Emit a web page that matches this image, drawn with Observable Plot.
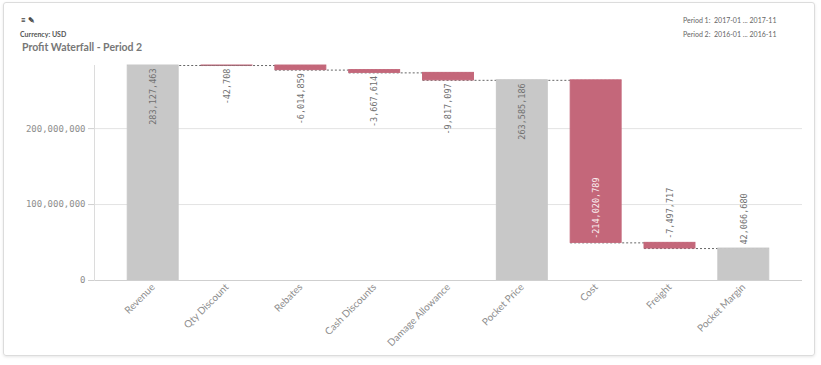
<!DOCTYPE html>
<html><head><meta charset="utf-8">
<script src="https://cdn.jsdelivr.net/npm/d3@7"></script>
<script src="https://cdn.jsdelivr.net/npm/@observablehq/plot@0.6"></script>
<style>
body{margin:0;background:#fff;width:821px;height:365px;position:relative;overflow:hidden;font-family:Lato,"Open Sans",sans-serif}
#card{position:absolute;left:3px;top:2px;width:812px;height:354px;border:1px solid #dcdcdc;border-radius:3px;box-shadow:0 1px 3px rgba(0,0,0,0.10);box-sizing:border-box}
.t{position:absolute;white-space:nowrap}
#chart{position:absolute;left:0;top:0}
</style></head><body>
<div id="card"></div>
<div class="t" style="left:21px;top:15px;font-size:8px;color:#444;font-weight:bold">≡ ✎</div>
<div class="t" style="left:20px;top:30px;font-size:7px;color:#555;font-weight:bold">Currency: USD</div>
<div class="t" style="left:22px;top:41px;font-size:10.5px;color:#777;font-weight:bold">Profit Waterfall - Period 2</div>
<div class="t" style="left:683px;top:16px;font-size:7px;color:#666">Period 1:&nbsp; 2017-01 ... 2017-11</div>
<div class="t" style="left:683px;top:30px;font-size:7px;color:#666">Period 2:&nbsp; 2016-01 ... 2016-11</div>
<div id="chart"></div>
<script>
const categories = ["Revenue","Qty Discount","Rebates","Cash Discounts","Damage Allowance","Pocket Price","Cost","Freight","Pocket Margin"];
const values = [283127463,-42708,-6014859,-3667614,-9817097,263585186,-214020789,-7497717,42066680];
const isTotal = [true,false,false,false,false,true,false,false,true];
const yTicks = [0,100000000,200000000];

const W = 821, H = 365, mT = 65, mB = 85, mL = 94, mR = 19;
const fmt = d3.formatLocale({decimal: ".", thousands: ",", grouping: [3], currency: ["$", ""], minus: "-"}).format(",");
let running = 0;
const rows = categories.map((c, i) => {
  let a, b;
  if (isTotal[i]) { a = 0; b = values[i]; running = values[i]; }
  else { a = running; b = running + values[i]; running = b; }
  return {cat: c, value: values[i], total: isTotal[i], lo: Math.min(a, b), hi: Math.max(a, b), end: running};
});
const yMax = values[0];
const pxPer = (H - mT - mB) / yMax;
const fs = 8.5;
rows.forEach(r => {
  r.label = fmt(r.value);
  const len = r.label.length * 0.6 * fs + 4;
  const barPx = (r.hi - r.lo) * pxPer;
  r.inside = barPx >= len + 4;
  if (r.inside) {
    if (r.total) { r.anchor = "end"; r.ly = r.hi; } else { r.anchor = "start"; r.ly = r.lo; }
  } else if (r.total) { r.anchor = "start"; r.ly = r.hi; }
  else if (r.lo * pxPer >= len + 6) { r.anchor = "end"; r.ly = r.lo; }
  else { r.anchor = "start"; r.ly = r.hi; }
});
const links = rows.slice(0, -1).map((r, i) => ({a: r.cat, b: rows[i + 1].cat, level: r.end}));
const colorOf = d => d.total ? "#c8c8c8" : "#c4677a";
const labelColor = d => (d.inside && !d.total) ? "#fbeef0" : "#707070";

const chart = Plot.plot({
  width: W, height: H,
  marginTop: mT, marginBottom: mB, marginLeft: mL, marginRight: mR,
  style: {fontFamily: "Lato, 'Open Sans', sans-serif", background: "transparent", color: "#888"},
  x: {domain: categories, paddingInner: 0.31, paddingOuter: 0.45, round: false, label: null},
  y: {domain: [0, yMax], label: null},
  color: {type: "identity"},
  marks: [
    Plot.gridY(yTicks, {stroke: "#e3e3e3", strokeOpacity: 1}),
    Plot.ruleY(links, {y: "level", x1: "a", x2: "b", stroke: "#666", strokeDasharray: "2,2", strokeWidth: 1}),
    Plot.barY(rows, {x: "cat", y1: "lo", y2: "hi", fill: colorOf, stroke: colorOf, strokeWidth: 1}),
    Plot.ruleY([0], {stroke: "#cfcfcf"}),
    Plot.frame({anchor: "left", stroke: "#dcdcdc"}),
    Plot.text(rows.filter(r => r.anchor === "end"), {x: "cat", y: "ly", text: "label", rotate: -90, textAnchor: "end", dy: 3, fontFamily: "DejaVu Sans Mono", fontSize: fs, fill: labelColor}),
    Plot.text(rows.filter(r => r.anchor === "start"), {x: "cat", y: "ly", text: "label", rotate: -90, textAnchor: "start", dy: -4, fontFamily: "DejaVu Sans Mono", fontSize: fs, fill: labelColor}),
    Plot.axisY({ticks: yTicks, tickFormat: fmt, tickSize: 6, tickPadding: 3, fontFamily: "DejaVu Sans Mono", fontSize: 9, fill: "#8e8e8e", stroke: "#cfcfcf", label: null}),
    Plot.axisX({tickRotate: -45, tickSize: 0, tickPadding: 5, fontSize: 10, fill: "#8e8e8e", label: null})
  ]
});
document.getElementById("chart").appendChild(chart);
</script>
</body></html>
